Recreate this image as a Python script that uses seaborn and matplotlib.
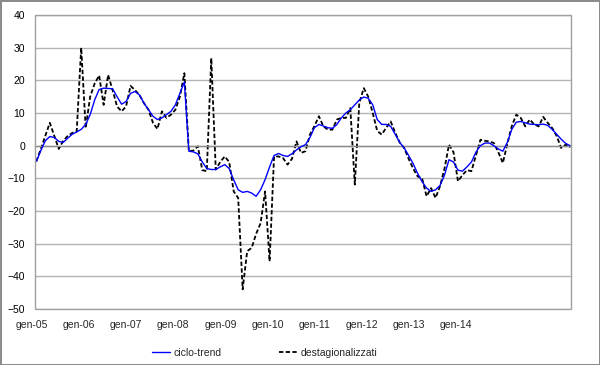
import numpy as np
import pandas as pd
import matplotlib
matplotlib.use("Agg")
import matplotlib.pyplot as plt
import seaborn as sns
from matplotlib.patches import Rectangle

# dati mensili gen-2005 .. dic-2014
ciclo_trend = [
    -4.8, -1.5, 1.5, 2.8, 2.5, 1.3, 1.0, 2.3, 3.5, 4.2, 5.0, 6.5,
    9.5, 14.0, 17.2, 17.6, 17.5, 17.4, 15.0, 12.7, 13.5, 16.0, 16.6, 15.5,
    13.0, 11.0, 9.0, 8.0, 8.5, 9.5, 10.5, 12.5, 16.0, 19.5, -1.7, -1.9,
    -2.5, -5.0, -7.0, -7.3, -7.3, -6.5, -5.8, -7.0, -10.5, -13.5, -14.3, -14.0,
    -14.5, -15.5, -13.5, -10.4, -6.5, -3.0, -2.4, -3.0, -3.3, -2.5, -1.3, -0.3,
    0.3, 2.5, 5.5, 6.5, 6.0, 5.5, 5.3, 6.5, 8.5, 10.0, 11.0, 12.5,
    14.0, 14.9, 14.5, 12.5, 8.0, 6.5, 6.5, 5.9, 3.5, 1.0, -0.7, -3.0,
    -5.5, -8.5, -11.0, -13.0, -14.0, -13.5, -12.2, -9.0, -4.3, -5.0, -7.5, -7.8,
    -6.5, -5.0, -2.0, 0.0, 0.8, 0.8, 0.0, -1.0, -1.7, 1.0, 5.0, 7.2,
    7.4, 7.0, 6.6, 6.5, 6.4, 6.6, 6.2, 5.0, 3.5, 2.0, 0.7, 0.0,
]
destagionalizzati = [
    -4.8, -1.0, 3.0, 7.0, 3.0, -1.0, 1.5, 3.0, 3.9, 4.4, 30.0, 5.4,
    15.0, 19.0, 21.5, 12.5, 21.7, 17.0, 12.0, 10.5, 12.0, 18.3, 17.0, 15.5,
    13.0, 11.0, 7.0, 5.1, 10.5, 8.5, 9.5, 11.0, 15.0, 22.2, -1.7, -1.5,
    -0.2, -7.5, -7.8, 26.8, -7.3, -5.0, -3.3, -5.0, -14.0, -16.0, -44.0, -32.3,
    -31.3, -27.0, -23.7, -14.0, -35.4, -3.3, -3.3, -3.8, -5.8, -4.0, 1.3, -2.2,
    -1.7, 3.4, 6.0, 9.0, 5.9, 4.9, 4.9, 8.0, 8.5, 8.5, 11.5, -11.9,
    13.1, 17.6, 15.0, 10.0, 4.5, 3.4, 5.5, 7.4, 4.0, 1.0, -0.7, -4.0,
    -7.0, -9.4, -10.0, -15.5, -13.0, -16.0, -12.4, -7.0, 0.3, -2.0, -10.9, -9.0,
    -7.5, -7.8, -3.0, 1.8, 1.5, 1.3, 0.8, -2.0, -5.3, 0.5, 6.0, 9.5,
    8.5, 5.9, 8.0, 6.5, 5.9, 8.8, 7.0, 5.4, 3.0, -0.7, 0.3, -0.5,
]
anni = ["gen-05", "gen-06", "gen-07", "gen-08", "gen-09",
        "gen-10", "gen-11", "gen-12", "gen-13", "gen-14"]

df = pd.DataFrame({
    "mese": np.arange(len(ciclo_trend)),
    "ciclo-trend": ciclo_trend,
    "destagionalizzati": destagionalizzati,
})

sns.set_theme(style="white")
plt.rcParams["font.family"] = ["Liberation Sans", "DejaVu Sans"]

fig = plt.figure(figsize=(6, 3.65), dpi=100)
fig.patch.set_edgecolor("#8c8c8c")
fig.patch.set_linewidth(2)
ax = fig.add_axes([35 / 600, 1 - 309 / 365, 536 / 600, 294 / 365])

sns.lineplot(data=df, x="mese", y="ciclo-trend", ax=ax, color="#0000ff",
             lw=1.0, label="ciclo-trend", zorder=3)
sns.lineplot(data=df, x="mese", y="destagionalizzati", ax=ax, color="black",
             lw=1.3, linestyle=(0, (2.4, 1.3)), label="destagionalizzati", zorder=2)

ax.set_xlim(-0.3, 119.2)
ax.set_ylim(-50, 40)
ax.set_yticks(range(-50, 41, 10))
ax.yaxis.grid(True, color="#b4b4b4", lw=1.0)
ax.set_xlabel("")
ax.set_ylabel("")
ax.tick_params(axis="y", length=0, pad=7, labelsize=7.5, colors="black")

# asse x che incrocia a zero, con tacche annuali
for s in ["top", "left", "right"]:
    ax.spines[s].set_visible(False)
ax.spines["bottom"].set_position(("data", 0))
ax.spines["bottom"].set_color("#8c8c8c")
ax.spines["bottom"].set_linewidth(1.0)
ax.set_xticks(range(12, 120, 12))
ax.tick_params(axis="x", direction="out", length=3, color="#8c8c8c",
               labelbottom=False)
ax.add_patch(Rectangle((0, 0), 1, 1, transform=ax.transAxes, fill=False,
                       ec="#a0a0a0", lw=1.0, clip_on=False, zorder=5))

# etichette anno in basso
label_px = np.linspace(32, 456, len(anni))
for px, lab in zip(label_px, anni):
    ax.text((px - 35) / 536, -0.055, lab, transform=ax.transAxes,
            ha="center", va="center", fontsize=7.5)

ax.legend(loc="center", bbox_to_anchor=(0.441, 0.033),
          bbox_transform=fig.transFigure, ncol=2, frameon=False,
          fontsize=7.5, handlelength=1.75, handletextpad=0.3,
          columnspacing=5.5)

fig.savefig("out.png", dpi=100, edgecolor=fig.get_edgecolor())
